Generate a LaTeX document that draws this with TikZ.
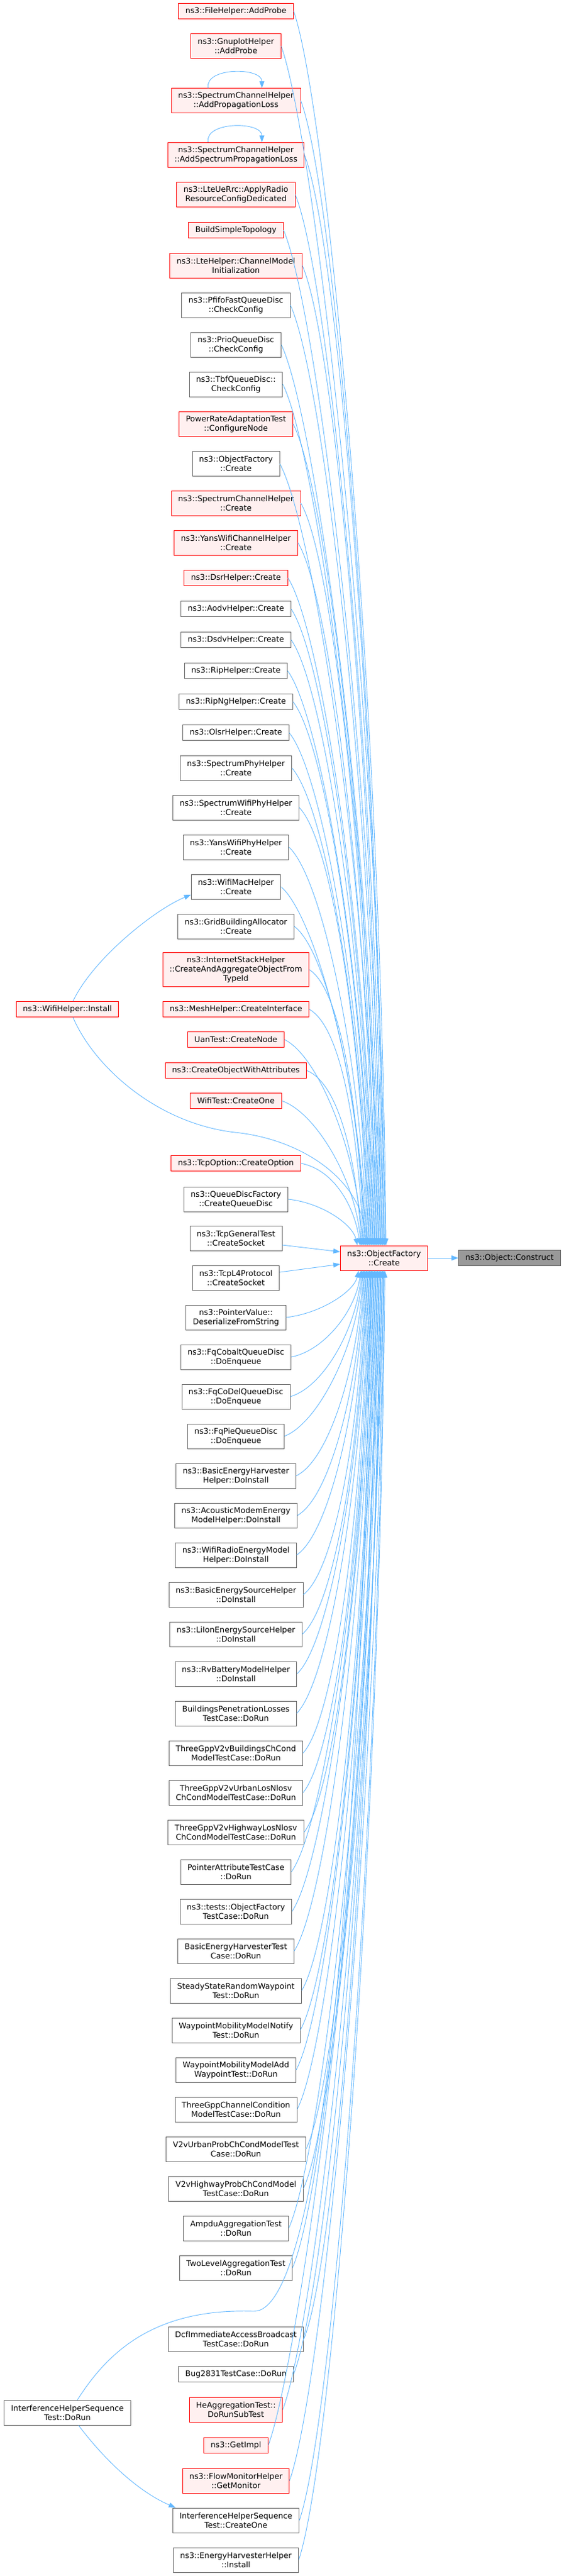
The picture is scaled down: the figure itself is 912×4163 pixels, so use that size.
\documentclass[tikz,border=0pt]{standalone}
\usepackage{fontspec}
\setmainfont{DejaVu Sans}
\usetikzlibrary{arrows.meta}
\definecolor{edge_blue}{HTML}{63B8FF}
\definecolor{trunc_red}{HTML}{FF0000}
\definecolor{trunc_fill}{HTML}{FFF0F0}
\definecolor{box_gray}{HTML}{666666}
\definecolor{target_fill}{HTML}{999999}

\begin{document}
\begin{tikzpicture}[
    x=1pt, y=-1pt,
    fn-box/.style={draw, line width=0.9pt, text=black, align=center,
      font=\fontsize{12.7}{15}\selectfont, inner xsep=11pt, inner ysep=2pt},
    call-box/.style={fn-box, draw=box_gray, fill=white},
    trunc-box/.style={fn-box, draw=trunc_red, fill=trunc_fill},
    target-box/.style={fn-box, draw=box_gray, fill=target_fill},
    one-line/.style={minimum height=25pt},
    two-lines/.style={minimum height=40pt},
    three-lines/.style={minimum height=55pt},
    call-edge/.style={draw=edge_blue, line width=0.9pt,
      -{Triangle[length=11pt, width=8pt]}},
  ]
  %%%%%%%%%% Canvas %%%%%%%%%%
  \fill[white] (0,0) rectangle (912,4163);

  %%%%%%%%%% Called functions %%%%%%%%%%
  \node[trunc-box, two-lines] (target) at (621,2033) {ns3::ObjectFactory\\::Create};
  \node[target-box, one-line] (construct) at (824,2033) {ns3::Object::Construct};
  \draw[call-edge] (target) -- (construct);

  %%%%%%%%%% Callers above %%%%%%%%%%
  \node[trunc-box, one-line] (fileadd) at (381.5,17.5) {ns3::FileHelper::AddProbe};
  \node[trunc-box, two-lines] (gnuadd) at (381.5,74.5) {ns3::GnuplotHelper\\::AddProbe};
  \node[trunc-box, two-lines] (addprop) at (381.5,162.7) {ns3::SpectrumChannelHelper\\::AddPropagationLoss};
  \node[trunc-box, two-lines] (addspec) at (381.5,250.3) {ns3::SpectrumChannelHelper\\::AddSpectrumPropagationLoss};
  \node[trunc-box, two-lines] (applyradio) at (381.5,314.5) {ns3::LteUeRrc::ApplyRadio\\ResourceConfigDedicated};
  \node[trunc-box, one-line] (buildtopo) at (381.5,372) {BuildSimpleTopology};
  \node[trunc-box, two-lines] (chaninit) at (381.5,429) {ns3::LteHelper::ChannelModel\\Initialization};
  \node[call-box, two-lines] (pfifo) at (381.5,493) {ns3::PfifoFastQueueDisc\\::CheckConfig};
  \node[call-box, two-lines] (prio) at (381.5,557) {ns3::PrioQueueDisc\\::CheckConfig};
  \node[call-box, two-lines] (tbf) at (381.5,621) {ns3::TbfQueueDisc::\\CheckConfig};
  \node[trunc-box, two-lines] (confnode) at (381.5,685) {PowerRateAdaptationTest\\::ConfigureNode};
  \node[call-box, two-lines] (ofcreate) at (381.5,749.5) {ns3::ObjectFactory\\::Create};
  \node[trunc-box, two-lines] (spchcreate) at (381.5,813) {ns3::SpectrumChannelHelper\\::Create};
  \node[trunc-box, two-lines] (yanschcreate) at (381.5,877) {ns3::YansWifiChannelHelper\\::Create};
  \node[trunc-box, one-line] (dsr) at (381.5,934) {ns3::DsrHelper::Create};
  \node[call-box, one-line] (aodv) at (381.5,984) {ns3::AodvHelper::Create};
  \node[call-box, one-line] (dsdv) at (381.5,1034) {ns3::DsdvHelper::Create};
  \node[call-box, one-line] (rip) at (381.5,1084) {ns3::RipHelper::Create};
  \node[call-box, one-line] (ripng) at (381.5,1134) {ns3::RipNgHelper::Create};
  \node[call-box, one-line] (olsr) at (381.5,1184) {ns3::OlsrHelper::Create};
  \node[call-box, two-lines] (spphy) at (381.5,1241) {ns3::SpectrumPhyHelper\\::Create};
  \node[call-box, two-lines] (spwifiphy) at (381.5,1305) {ns3::SpectrumWifiPhyHelper\\::Create};
  \node[call-box, two-lines] (yansphy) at (381.5,1369) {ns3::YansWifiPhyHelper\\::Create};
  \node[call-box, two-lines] (wifimac) at (381.5,1433) {ns3::WifiMacHelper\\::Create};
  \node[call-box, two-lines] (gridbuild) at (381.5,1497) {ns3::GridBuildingAllocator\\::Create};
  \node[trunc-box, three-lines] (aggobj) at (381.5,1567) {ns3::InternetStackHelper\\::CreateAndAggregateObjectFrom\\TypeId};
  \node[trunc-box, one-line] (meshif) at (381.5,1631) {ns3::MeshHelper::CreateInterface};
  \node[trunc-box, one-line] (uannode) at (381.5,1680) {UanTest::CreateNode};
  \node[trunc-box, one-line] (objattr) at (381.5,1730) {ns3::CreateObjectWithAttributes};
  \node[trunc-box, one-line] (wifitest) at (381.5,1779) {WifiTest::CreateOne};
  \node[trunc-box, one-line] (tcpopt) at (381.5,1880) {ns3::TcpOption::CreateOption};
  \node[call-box, two-lines] (qdfactory) at (381.5,1938) {ns3::QueueDiscFactory\\::CreateQueueDisc};

  %%%%%%%%%% Callers beside %%%%%%%%%%
  \node[call-box, two-lines] (tcpgen) at (381.5,2001) {ns3::TcpGeneralTest\\::CreateSocket};
  \node[call-box, two-lines] (tcpl4) at (381.5,2065) {ns3::TcpL4Protocol\\::CreateSocket};

  %%%%%%%%%% Callers below %%%%%%%%%%
  \node[call-box, two-lines] (ptrvalue) at (381.5,2129) {ns3::PointerValue::\\DeserializeFromString};
  \node[call-box, two-lines] (fqcobalt) at (381.5,2193) {ns3::FqCobaltQueueDisc\\::DoEnqueue};
  \node[call-box, two-lines] (fqcodel) at (381.5,2257) {ns3::FqCoDelQueueDisc\\::DoEnqueue};
  \node[call-box, two-lines] (fqpie) at (381.5,2321) {ns3::FqPieQueueDisc\\::DoEnqueue};
  \node[call-box, two-lines] (basicharv) at (381.5,2385) {ns3::BasicEnergyHarvester\\Helper::DoInstall};
  \node[call-box, two-lines] (acoustic) at (381.5,2449) {ns3::AcousticModemEnergy\\ModelHelper::DoInstall};
  \node[call-box, two-lines] (wifiradio) at (381.5,2513) {ns3::WifiRadioEnergyModel\\Helper::DoInstall};
  \node[call-box, two-lines] (basicsrc) at (381.5,2577) {ns3::BasicEnergySourceHelper\\::DoInstall};
  \node[call-box, two-lines] (liion) at (381.5,2641) {ns3::LiIonEnergySourceHelper\\::DoInstall};
  \node[call-box, two-lines] (rvbatt) at (381.5,2705) {ns3::RvBatteryModelHelper\\::DoInstall};
  \node[call-box, two-lines] (bldpen) at (381.5,2769) {BuildingsPenetrationLosses\\TestCase::DoRun};
  \node[call-box, two-lines] (v2vbld) at (381.5,2833) {ThreeGppV2vBuildingsChCond\\ModelTestCase::DoRun};
  \node[call-box, two-lines] (v2vurban) at (381.5,2897) {ThreeGppV2vUrbanLosNlosv\\ChCondModelTestCase::DoRun};
  \node[call-box, two-lines] (v2vhwy) at (381.5,2961) {ThreeGppV2vHighwayLosNlosv\\ChCondModelTestCase::DoRun};
  \node[call-box, two-lines] (ptrattr) at (381.5,3025) {PointerAttributeTestCase\\::DoRun};
  \node[call-box, two-lines] (oftest) at (381.5,3089) {ns3::tests::ObjectFactory\\TestCase::DoRun};
  \node[call-box, two-lines] (bharvtest) at (381.5,3153) {BasicEnergyHarvesterTest\\Case::DoRun};
  \node[call-box, two-lines] (steadyrwp) at (381.5,3217) {SteadyStateRandomWaypoint\\Test::DoRun};
  \node[call-box, two-lines] (wpnotify) at (381.5,3281) {WaypointMobilityModelNotify\\Test::DoRun};
  \node[call-box, two-lines] (wpadd) at (381.5,3345) {WaypointMobilityModelAdd\\WaypointTest::DoRun};
  \node[call-box, two-lines] (chcond) at (381.5,3409) {ThreeGppChannelCondition\\ModelTestCase::DoRun};
  \node[call-box, two-lines] (v2vuprob) at (381.5,3473) {V2vUrbanProbChCondModelTest\\Case::DoRun};
  \node[call-box, two-lines] (v2vhprob) at (381.5,3537) {V2vHighwayProbChCondModel\\TestCase::DoRun};
  \node[call-box, two-lines] (ampdu) at (381.5,3601) {AmpduAggregationTest\\::DoRun};
  \node[call-box, two-lines] (twolevel) at (381.5,3665) {TwoLevelAggregationTest\\::DoRun};
  \node[call-box, two-lines] (dcfbcast) at (381.5,3780) {DcfImmediateAccessBroadcast\\TestCase::DoRun};
  \node[call-box, one-line] (bugtest) at (381.5,3837) {Bug2831TestCase::DoRun};
  \node[trunc-box, two-lines] (hesub) at (381.5,3894) {HeAggregationTest::\\DoRunSubTest};
  \node[trunc-box, one-line] (getimpl) at (381.5,3952) {ns3::GetImpl};
  \node[trunc-box, two-lines] (flowmon) at (381.5,4009) {ns3::FlowMonitorHelper\\::GetMonitor};
  \node[call-box, two-lines] (ihcreate) at (381.5,4073) {InterferenceHelperSequence\\Test::CreateOne};
  \node[call-box, two-lines] (harvinst) at (381.5,4137) {ns3::EnergyHarvesterHelper\\::Install};

  %%%%%%%%%% Second-level callers %%%%%%%%%%
  \node[trunc-box, one-line] (wifiinst) at (109,1631) {ns3::WifiHelper::Install};
  \node[call-box, two-lines] (ihrun) at (109,3899) {InterferenceHelperSequence\\Test::DoRun};

  %%%%%%%%%% Calls from above %%%%%%%%%%
  \foreach \nm/\yy/\entry in {
    fileadd/17.5/74, gnuadd/74.5/72.6, addprop/162.7/71.2, addspec/250.3/69.8,
    applyradio/314.5/68.4, buildtopo/372/67, chaninit/429/65.6, pfifo/493/64.2,
    prio/557/62.8, tbf/621/61.4, confnode/685/60, ofcreate/749.5/58.6,
    spchcreate/813/57.2, yanschcreate/877/55.8, dsr/934/54.4, aodv/984/53,
    dsdv/1034/51.6, rip/1084/50.2, ripng/1134/48.8, olsr/1184/47.4,
    spphy/1241/46, spwifiphy/1305/44.6, yansphy/1369/43.2, wifimac/1433/41.8,
    gridbuild/1497/40.4, aggobj/1567/39, meshif/1631/37.6, uannode/1680/36.2,
    objattr/1730/34.8, wifitest/1779/33.4, tcpopt/1880/32, qdfactory/1938/28
  } {
    \draw[call-edge] (\nm.east) .. controls +(55,{0.08*(2013-\yy)}) and +(-8,{-0.45*(2013-\yy)}) .. ([xshift=\entry]target.north west);
  }

  %%%%%%%%%% Calls from beside %%%%%%%%%%
  \draw[call-edge] ([yshift=-11]tcpgen.east) -- ([yshift=10]target.west);
  \draw[call-edge] ([yshift=9]tcpl4.east) -- ([yshift=-10]target.west);

  %%%%%%%%%% Calls from below %%%%%%%%%%
  \foreach \nm/\yy/\entry in {
    ptrvalue/2129/30, fqcobalt/2193/33.3, fqcodel/2257/34.6, fqpie/2321/35.9,
    basicharv/2385/37.2, acoustic/2449/38.5, wifiradio/2513/39.8, basicsrc/2577/41.1,
    liion/2641/42.4, rvbatt/2705/43.7, bldpen/2769/45, v2vbld/2833/46.3,
    v2vurban/2897/47.6, v2vhwy/2961/48.9, ptrattr/3025/50.2, oftest/3089/51.5,
    bharvtest/3153/52.8, steadyrwp/3217/54.1, wpnotify/3281/55.4, wpadd/3345/56.7,
    chcond/3409/58, v2vuprob/3473/59.3, v2vhprob/3537/60.6, ampdu/3601/61.9,
    twolevel/3665/63.2, dcfbcast/3780/64.5, bugtest/3837/65.8, hesub/3894/67.1,
    getimpl/3952/68.4, flowmon/4009/69.7, ihcreate/4073/71, harvinst/4137/72.3
  } {
    \draw[call-edge] (\nm.east) .. controls +(55,{-0.08*(\yy-2053)}) and +(-8,{0.45*(\yy-2053)}) .. ([xshift=\entry]target.south west);
  }

  %%%%%%%%%% Recursive calls %%%%%%%%%%
  \foreach \nm in {addprop, addspec} {
    \draw[call-edge] ([xshift=-45]\nm.north) .. controls +(-6,-34) and +(0,-34) .. ([xshift=42]\nm.north);
  }

  %%%%%%%%%% Second-level calls %%%%%%%%%%
  \draw[call-edge] ([xshift=9]wifiinst.north) .. controls (150,1550) and (250,1470) .. ([yshift=-13]wifimac.west);
  \draw[call-edge] ([xshift=9]wifiinst.south) .. controls (150,1720) and (250,1815) .. (380,1830)
    .. controls (480,1840) and (585,1900) .. ([xshift=44]target.north west);
  \draw[call-edge] ([xshift=16]ihrun.north) .. controls (175,3800) and (250,3730) .. (410,3735)
    .. controls (520,3740) and (585,3000) .. ([xshift=50]target.south west);
  \draw[call-edge] ([xshift=18]ihrun.south) .. controls (165,3970) and (220,4025) .. ([xshift=5]ihcreate.north west);
\end{tikzpicture}
\end{document}
